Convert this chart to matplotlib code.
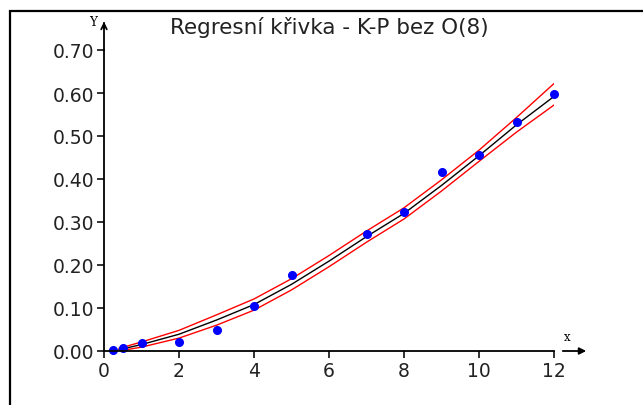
import matplotlib
matplotlib.use("Agg")
import matplotlib.pyplot as plt
from matplotlib.patches import Rectangle

# Measured points
pts_x = [0.25, 0.5, 1, 2, 3, 4, 5, 7, 8, 9, 10, 11, 12]
pts_y = [0.002, 0.008, 0.018, 0.02, 0.048, 0.105, 0.176, 0.272, 0.323, 0.416, 0.455, 0.532, 0.598]

# Regression curve and its band
curve_x = [0.4, 1, 2, 3, 4, 5, 6, 7, 8, 9, 10, 11, 12]
curve_y = [0.003, 0.015, 0.039, 0.072, 0.108, 0.155, 0.209, 0.266, 0.320, 0.385, 0.454, 0.526, 0.592]
upper_y = [0.006, 0.021, 0.048, 0.084, 0.121, 0.168, 0.222, 0.279, 0.333, 0.398, 0.467, 0.543, 0.622]
lower_y = [0.000, 0.009, 0.030, 0.060, 0.095, 0.142, 0.196, 0.253, 0.307, 0.372, 0.441, 0.509, 0.572]

x_ticks = [0, 2, 4, 6, 8, 10, 12]
y_ticks = [0.0, 0.1, 0.2, 0.3, 0.4, 0.5, 0.6, 0.7]
title = "Regresní křivka - K-P bez O(8)"

W, H = 643, 406
fig = plt.figure(figsize=(W / 100, H / 100), dpi=100)

# outer frame (only left and top edges visible)
fig.patches.append(Rectangle((10 / W, -0.1), 1.2, 1 - 12 / H + 0.1, transform=fig.transFigure,
                             fill=False, edgecolor="black", linewidth=1.6))

# axes: x 0..12 -> px 104..554, y 0..0.7 -> px 352..51
ax = fig.add_axes([104 / W, (H - 352) / H, 450 / W, 301 / H])
ax.set_xlim(0, 12)
ax.set_ylim(0, 0.7)

ax.plot(curve_x, upper_y, color="red", lw=1)
ax.plot(curve_x, lower_y, color="red", lw=1)
ax.plot(curve_x, curve_y, color="black", lw=1)
ax.plot(pts_x, pts_y, "o", color="blue", ms=5.5, clip_on=False)

ax.spines["top"].set_visible(False)
ax.spines["right"].set_visible(False)
ax.spines["left"].set_linewidth(1.3)
ax.spines["bottom"].set_linewidth(1.3)
ax.set_xticks(x_ticks)
ax.set_xticklabels([str(t) for t in x_ticks])
ax.set_yticks(y_ticks)
ax.set_yticklabels(["%.2f" % t for t in y_ticks])
ax.tick_params(direction="out", length=5, width=1.3, labelsize=13.5, pad=2, colors="#222222")

# y axis continues up to an arrow
fig.add_artist(plt.Line2D([104 / W, 104 / W], [(H - 51) / H, (H - 24) / H], color="black", lw=1.3))
ax.annotate("", xy=(104 / W, (H - 20) / H), xytext=(104 / W, (H - 32) / H),
            xycoords="figure fraction", textcoords="figure fraction",
            arrowprops=dict(arrowstyle="->", color="black", lw=1.3))
fig.text(93 / W, (H - 22) / H, "Y", fontsize=8.5, ha="center", va="center", family="DejaVu Serif")

# x axis arrow after a small gap
ax.annotate("", xy=(589 / W, (H - 352) / H), xytext=(560 / W, (H - 352) / H),
            xycoords="figure fraction", textcoords="figure fraction",
            arrowprops=dict(arrowstyle="-|>", color="black", lw=1.3, mutation_scale=10))
fig.text(567 / W, (H - 338) / H, "x", fontsize=8.5, ha="center", va="center", family="DejaVu Serif")

fig.text(329 / W, (H - 28) / H, title, fontsize=15.5, ha="center", va="center", color="#222222")

fig.savefig("out.png", dpi=100)
